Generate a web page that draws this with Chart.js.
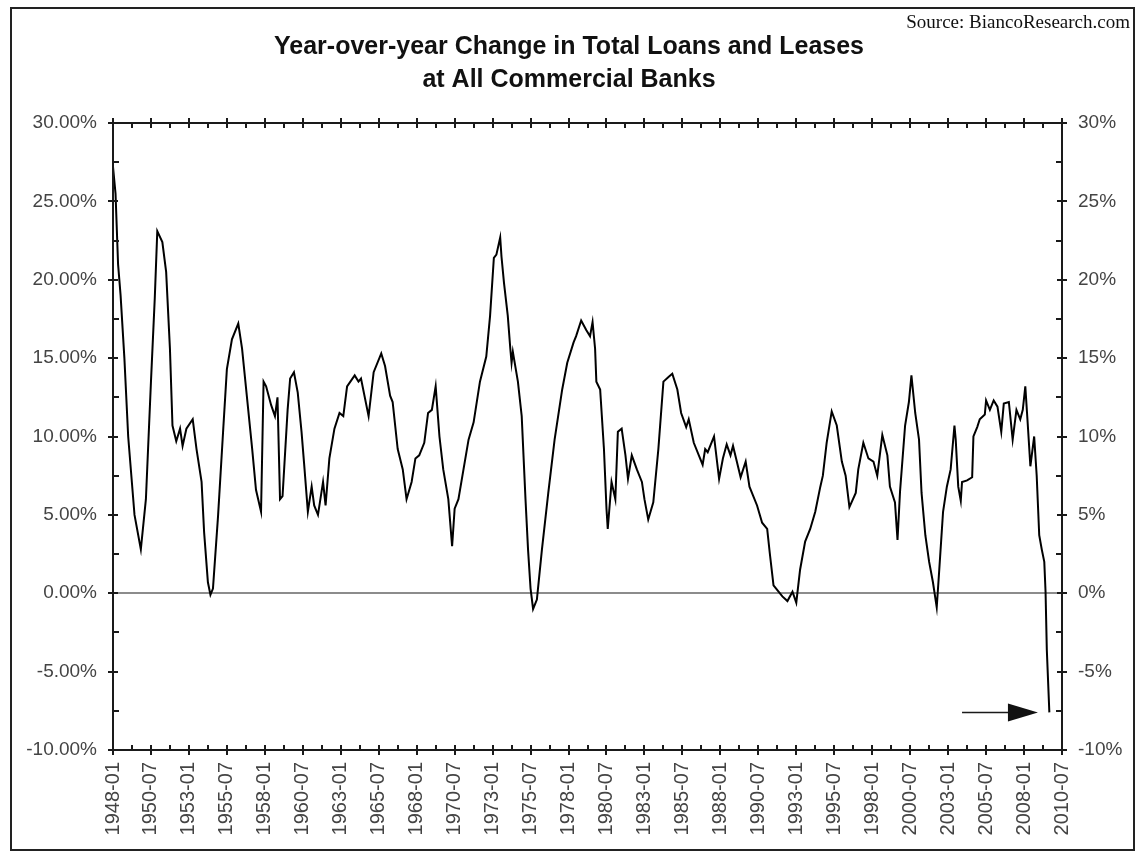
<!DOCTYPE html>
<html><head><meta charset="utf-8">
<script src="https://cdn.jsdelivr.net/npm/chart.js@4.4.0/dist/chart.umd.min.js"></script>
<style>
html,body{margin:0;padding:0;background:#fff;}
#wrap{position:relative;width:1138px;height:856px;overflow:hidden;}
canvas{position:absolute;left:0;top:0;}
#frame{position:absolute;left:10px;top:7px;width:1121px;height:840px;border:2px solid #222;pointer-events:none;}
#src{position:absolute;right:8px;top:11px;font-family:"Liberation Serif","Times New Roman",serif;font-size:19px;color:#111;white-space:nowrap;}
</style></head><body>
<div id="wrap"><canvas id="c" width="1138" height="856"></canvas><div id="frame"></div><div id="src">Source: BiancoResearch.com</div></div>
<script>
const titleLines = ['Year-over-year Change in Total Loans and Leases', 'at All Commercial Banks'];
const sourceText = 'Source: BiancoResearch.com';

const dates = [
 '1948-01','1948-03','1948-05','1948-07','1948-10','1949-01','1949-06','1949-11',
 '1950-03','1950-07','1950-10','1950-12','1951-04','1951-07','1951-10','1951-12','1952-03','1952-06','1952-08','1952-11',
 '1953-04','1953-07','1953-11','1954-01','1954-04','1954-06','1954-08','1954-12','1955-04','1955-07','1955-11','1956-04',
 '1956-07','1956-11','1957-03','1957-06','1957-10','1957-12','1958-02','1958-06','1958-09','1958-11','1959-01','1959-03',
 '1959-07','1959-09','1959-12','1960-03','1960-06','1960-08','1960-11','1961-02','1961-04','1961-07','1961-11','1962-01',
 '1962-04','1962-08','1962-12','1963-03','1963-06','1963-12','1964-03','1964-05','1964-11','1965-03','1965-09','1965-12',
 '1966-04','1966-06','1966-10','1967-02','1967-05','1967-09','1967-12','1968-03','1968-07','1968-10','1969-01','1969-04',
 '1969-07','1969-10','1970-02','1970-05','1970-07','1970-10','1971-02','1971-06','1971-10','1972-03','1972-08','1972-11',
 '1973-02','1973-04','1973-07','1973-08','1973-10','1974-01','1974-03','1974-04','1974-05','1974-09','1974-12','1975-03',
 '1975-05','1975-07','1975-09','1975-12','1976-04','1976-09','1977-02','1977-08','1977-12','1978-05','1978-07','1978-11',
 '1979-03','1979-06','1979-08','1979-10','1979-11','1980-02','1980-05','1980-07','1980-08','1980-11','1981-02','1981-04',
 '1981-07','1981-10','1981-12','1982-03','1982-07','1982-11','1983-01','1983-04','1983-08','1983-12','1984-04','1984-08',
 '1984-11','1985-03','1985-06','1985-10','1985-12','1986-04','1986-08','1986-11','1987-01','1987-03','1987-08','1987-12',
 '1988-03','1988-06','1988-09','1988-11','1989-02','1989-05','1989-09','1989-12','1990-06','1990-10','1991-02','1991-04',
 '1991-07','1991-11','1992-02','1992-06','1992-10','1993-01','1993-04','1993-08','1993-12','1994-04','1994-08','1994-10',
 '1995-01','1995-05','1995-09','1996-01','1996-04','1996-07','1996-12','1997-02','1997-06','1997-10','1998-02','1998-05',
 '1998-09','1999-01','1999-03','1999-07','1999-09','1999-11','2000-03','2000-06','2000-08','2000-11','2001-02','2001-04',
 '2001-07','2001-10','2002-01','2002-04','2002-06','2002-09','2002-12','2003-03','2003-06','2003-07','2003-09','2003-11',
 '2003-12','2004-04','2004-08','2004-09','2004-12','2005-02','2005-06','2005-07','2005-10','2006-01','2006-04','2006-07',
 '2006-09','2007-01','2007-04','2007-07','2007-10','2007-12','2008-02','2008-04','2008-06','2008-09','2008-11','2009-01',
 '2009-03','2009-05','2009-06','2009-07','2009-09'
];
const loanGrowth = [
 27.2,25.5,21.0,19.0,15.0,10.0,5.0,2.8,
 6.0,13.5,18.8,23.1,22.4,20.5,15.6,10.7,9.7,10.5,9.4,10.5,
 11.1,9.2,7.1,3.9,0.7,-0.1,0.3,4.9,10.3,14.3,16.2,17.2,
 15.6,12.4,9.2,6.6,5.2,13.5,13.2,12.0,11.3,12.5,6.0,6.2,
 11.7,13.7,14.1,12.8,10.3,8.3,5.2,6.8,5.6,5.0,7.1,5.6,
 8.6,10.5,11.5,11.3,13.2,13.9,13.5,13.7,11.3,14.1,15.3,14.5,
 12.6,12.2,9.2,7.9,6.0,7.1,8.6,8.8,9.6,11.5,11.7,13.2,
 10.0,7.9,6.0,3.0,5.4,6.0,7.9,9.8,10.9,13.5,15.1,17.7,
 21.4,21.6,22.7,21.5,19.8,17.7,15.6,14.7,15.4,13.5,11.3,6.0,
 2.8,0.3,-1.0,-0.4,2.8,6.4,9.8,13.0,14.7,16.0,16.4,17.4,
 16.8,16.4,17.3,15.6,13.5,13.0,9.2,5.4,4.1,7.1,6.0,10.3,
 10.5,8.8,7.3,8.8,7.9,7.1,6.0,4.7,5.8,9.2,13.5,13.8,
 14.0,13.0,11.5,10.6,11.1,9.6,8.8,8.2,9.2,9.0,10.0,7.3,
 8.6,9.5,8.8,9.4,8.4,7.4,8.4,6.8,5.6,4.5,4.1,2.6,
 0.5,0.1,-0.2,-0.5,0.1,-0.6,1.5,3.3,4.1,5.2,6.8,7.5,
 9.6,11.6,10.7,8.4,7.5,5.5,6.4,7.9,9.6,8.6,8.4,7.5,
 10.1,8.8,6.8,5.8,3.4,6.5,10.7,12.2,13.9,11.5,9.8,6.4,
 3.7,2.0,0.7,-0.9,1.5,5.2,6.8,7.9,10.7,9.8,6.8,5.9,
 7.1,7.2,7.4,10.0,10.6,11.1,11.4,12.3,11.7,12.3,11.9,10.3,
 12.1,12.2,9.8,11.7,11.1,11.7,13.2,10.7,8.1,10.0,7.5,3.7,
 2.8,2.0,0.1,-3.6,-7.6
];

const xTickLabels = ['1948-01','1950-07','1953-01','1955-07','1958-01','1960-07','1963-01','1965-07','1968-01',
 '1970-07','1973-01','1975-07','1978-01','1980-07','1983-01','1985-07','1988-01','1990-07','1993-01','1995-07',
 '1998-01','2000-07','2003-01','2005-07','2008-01','2010-07'];
const yTickValues = [30, 25, 20, 15, 10, 5, 0, -5, -10];

const arrowFrom = '2003-12';
const arrowTo = '2008-12';
const arrowLevel = -7.6;

function monthIndex(s){ const p = s.split('-').map(Number); return (p[0]-1948)*12 + (p[1]-1); }
const labelByMonth = {};
xTickLabels.forEach(l => { labelByMonth[monthIndex(l)] = l; });

const decor = {
  id: 'decor',
  afterDatasetsDraw(chart){
    const {ctx, chartArea: a, scales} = chart;
    const ys = scales.y, xs = scales.x;
    ctx.save();
    ctx.strokeStyle = '#1a1a1a';
    ctx.lineWidth = 2;
    ctx.strokeRect(a.left, a.top, a.right - a.left, a.bottom - a.top);
    ctx.beginPath();
    const yv = yTickValues.slice().sort((p,q)=>p-q);
    yv.forEach((v,i) => {
      const p = Math.round(ys.getPixelForValue(v));
      ctx.moveTo(a.left-5, p); ctx.lineTo(a.left+5, p);
      ctx.moveTo(a.right-5, p); ctx.lineTo(a.right+5, p);
      if (i < yv.length-1){
        const q = Math.round(ys.getPixelForValue((v + yv[i+1]) / 2));
        ctx.moveTo(a.left, q); ctx.lineTo(a.left+6, q);
        ctx.moveTo(a.right-6, q); ctx.lineTo(a.right, q);
      }
    });
    const xv = xTickLabels.map(monthIndex);
    xv.forEach((v,i) => {
      const p = Math.round(xs.getPixelForValue(v));
      ctx.moveTo(p, a.bottom-5); ctx.lineTo(p, a.bottom+5);
      ctx.moveTo(p, a.top-5); ctx.lineTo(p, a.top+5);
      if (i < xv.length-1){
        const q = Math.round(xs.getPixelForValue((v + xv[i+1]) / 2));
        ctx.moveTo(q, a.bottom); ctx.lineTo(q, a.bottom-5);
        ctx.moveTo(q, a.top); ctx.lineTo(q, a.top+5);
      }
    });
    ctx.stroke();
    // arrow
    const x0 = xs.getPixelForValue(monthIndex(arrowFrom));
    const x1 = xs.getPixelForValue(monthIndex(arrowTo));
    const ya = ys.getPixelForValue(arrowLevel);
    ctx.lineWidth = 1.5;
    ctx.beginPath(); ctx.moveTo(x0, ya); ctx.lineTo(x1-28, ya); ctx.stroke();
    ctx.fillStyle = '#111';
    ctx.beginPath(); ctx.moveTo(x1-30, ya-9); ctx.lineTo(x1, ya); ctx.lineTo(x1-30, ya+9); ctx.closePath(); ctx.fill();
    ctx.restore();
  }
};

const fontFam = '"Liberation Sans", Arial, sans-serif';
new Chart(document.getElementById('c'), {
  type: 'line',
  data: {
    datasets: [{
      data: dates.map((d,i) => ({x: monthIndex(d), y: loanGrowth[i]})),
      borderColor: '#000', borderWidth: 2, pointRadius: 0, tension: 0, fill: false
    }]
  },
  options: {
    responsive: false, animation: false, devicePixelRatio: 1,
    layout: {padding: 0},
    plugins: {
      legend: {display: false}, tooltip: {enabled: false},
      title: {display: true, text: titleLines, color: '#111',
        font: {family: fontFam, size: 25, weight: 'bold', lineHeight: 1.34},
        padding: {top: 30, bottom: 26}}
    },
    scales: {
      x: {type: 'linear', position: 'bottom', min: monthIndex(xTickLabels[0]), max: monthIndex(xTickLabels[xTickLabels.length-1]),
        afterBuildTicks: s => { s.ticks = xTickLabels.map(l => ({value: monthIndex(l)})); },
        afterFit: s => { s.height = 106; },
        grid: {display: false, drawTicks: false}, border: {display: false},
        ticks: {autoSkip: false, minRotation: 90, maxRotation: 90, padding: 12, color: '#444',
          font: {family: fontFam, size: 20}, callback: v => labelByMonth[v] || ''}
      },
      y: {position: 'left', min: -10, max: 30,
        afterBuildTicks: s => { s.ticks = yTickValues.map(v => ({value: v})); },
        afterFit: s => { s.width = 113; },
        grid: {drawTicks: false, drawOnChartArea: true, lineWidth: 2,
          color: c => (c.tick && c.tick.value === 0) ? '#8c8c8c' : 'rgba(0,0,0,0)'},
        border: {display: false},
        ticks: {padding: 16, color: '#444', font: {family: fontFam, size: 19}, callback: v => v.toFixed(2) + '%'}
      },
      y2: {position: 'right', min: -10, max: 30,
        afterBuildTicks: s => { s.ticks = yTickValues.map(v => ({value: v})); },
        afterFit: s => { s.width = 76; },
        grid: {display: false, drawTicks: false}, border: {display: false},
        ticks: {padding: 16, color: '#444', font: {family: fontFam, size: 19}, callback: v => v + '%'}
      }
    }
  },
  plugins: [decor]
});
</script>
</body></html>
